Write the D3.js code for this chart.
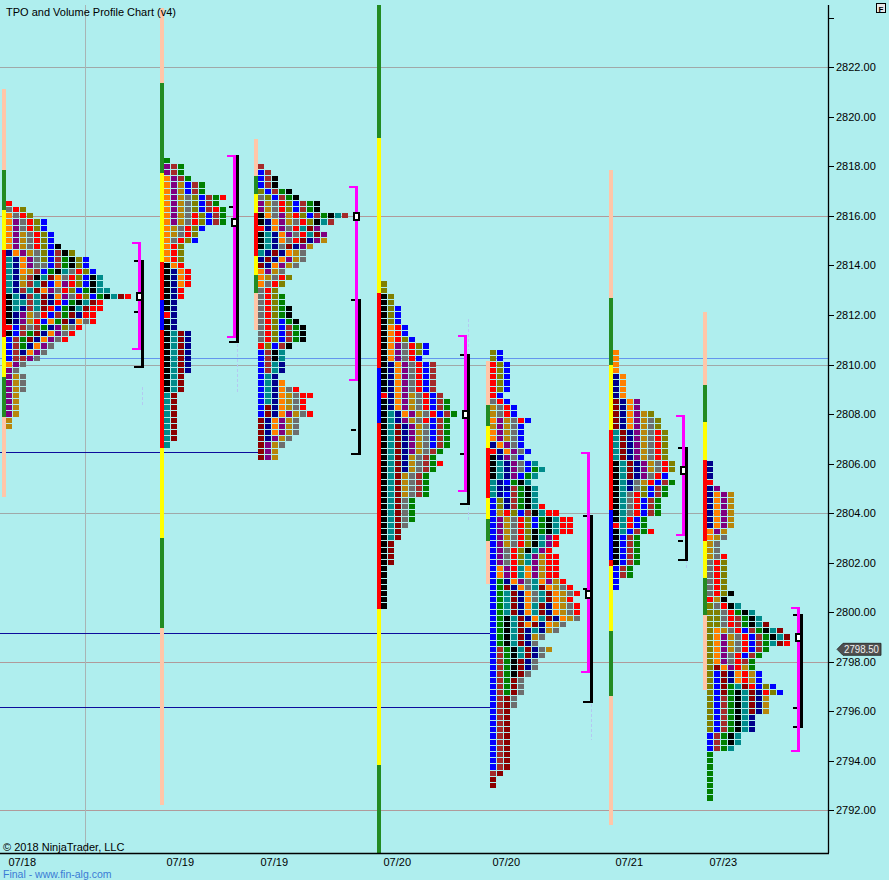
<!DOCTYPE html>
<html><head><meta charset="utf-8">
<script src="https://cdn.jsdelivr.net/npm/d3@7"></script>
<style>
html,body{margin:0;padding:0;background:#afeeee;}
svg{display:block;font-family:"Liberation Sans",Arial,sans-serif;}
</style></head><body>
<svg id="c" width="889" height="880"></svg>
<script>
// ---------------- DATA ----------------
const dateLabels = ["07/18","07/19","07/19","07/20","07/20","07/21","07/23"];
const sessionTops = [2816.5, 2818.25, 2818.0, 2813.25, 2810.5, 2810.5, 2806.0];
const pocPrices = [2812.75, 2815.75, 2816.0, 2808.0, 2800.75, 2805.75, 2799.0];
const tpoValueArea = [[2814.89,2810.62],[2818.42,2811.11],[2817.16,2809.38],[2811.15,2804.91],[2806.43,2797.60],[2807.92,2803.12],[2800.17,2794.40]];
const volValueArea = [[2814.18,2812.13,2809.90],[2818.42,2816.37,2810.91],[2812.62,2807.37,2806.40],[2810.39,2806.40,2804.38],[2803.90,2800.94,2796.39],[2806.64,2802.89,2802.12],[2799.90,2796.15,2795.38]];
const priceTicks = [2792,2794,2796,2798,2800,2802,2804,2806,2808,2810,2812,2814,2816,2818,2820,2822,2824];
const gridPrices = [2822,2816,2810,2804,2798,2792];
const lastPrice = 2798.50;
const blueLevel = 2810.25;
const nakedLevels = [2806.45, 2799.17, 2796.17];
const nakedEndSession = [2, 4, 4];
// faint dashed extension marks: [session, high, low]
const faintMarks = [[0,2809.1,2808.36],[1,2810.83,2808.89],[2,2807.1,2806.8],[3,2811.84,2810.59],[3,2804.25,2803.65],[4,2796.3,2794.85],[5,2802.1,2801.7],[6,2796.3,2796.0]];

// range bars: [high, low, code]
const range1 = [[2821.12,2804.65,"p"],[2817.85,2816.24,"G"],[2816.24,2814.62,"Y"],[2814.62,2811.11,"R"],[2811.11,2809.50,"Y"],[2809.50,2807.88,"G"]];
const range2 = [[2824.4,2792.22,"p"],[2821.37,2817.73,"G"],[2817.73,2814.14,"Y"],[2814.14,2812.60,"R"],[2812.60,2811.39,"B"],[2811.39,2806.63,"R"],[2806.63,2802.99,"Y"],[2802.99,2799.36,"G"]];
const range3 = [[2819.11,2811.39,"p"],[2817.61,2816.88,"G"],[2816.88,2816.13,"Y"],[2816.13,2814.38,"R"],[2814.38,2813.61,"Y"],[2813.61,2812.89,"G"]];
const range4 = [[2824.5,2819.15,"G"],[2819.15,2812.89,"Y"],[2812.89,2809.86,"R"],[2809.86,2807.64,"B"],[2807.64,2800.13,"R"],[2800.13,2793.83,"Y"],[2793.83,2790.28,"G"]];
const range5 = [[2810.14,2801.14,"p"],[2808.37,2807.52,"G"],[2807.52,2806.63,"Y"],[2806.63,2804.61,"R"],[2804.61,2803.76,"Y"],[2803.76,2802.87,"G"]];
const range6 = [[2817.85,2791.42,"p"],[2812.69,2809.98,"G"],[2809.98,2807.36,"Y"],[2807.36,2804.13,"R"],[2804.13,2802.11,"B"],[2802.11,2801.87,"R"],[2801.87,2799.25,"Y"],[2799.25,2796.63,"G"]];
const range7 = [[2812.12,2796.86,"p"],[2809.17,2807.68,"G"],[2807.68,2806.15,"Y"],[2806.15,2802.88,"R"],[2802.88,2801.38,"Y"],[2801.38,2799.89,"G"]];

// TPO rows, top price downwards, one letter per period block
const rows1 = ["R","gRO","ogRO","oPgROB","oPgROB","oPYgROB","oPYgROB","oPYgROBK","NoPYgOBbKO","TNoPgOBbGKOB","TNoPggBbGKOB","TNoYbBGKTgROB","TNYbKTMogROBKT","TNYbTMBoPROBKT","TNbTMoPgROBGKTT","KTNbTMNoPgROBGKTMR","KTTbTMNRBGKTMR","KTNbTMRBGKTMRR","KNPYgRBbGMNRR","KNPYRBoGMNogR","RBbgbGNPOgR","KBbGMNoPgR","BbGMNoPgR","BbGNoPg","BbNoPg","BbbPg","oPg","Pg","PYg","PYg","PYg","PY","PY","PY","PY","Y","Y"];
const rows2 = ["G","PbG","PbG","oPbG","oPYBbG","oPYBbG","oPYgOBbGR","oPYgOBbG","oPYgOBbRG","oPYgROBbG","oPYgROBbG","oYgROB","oYgRO","ogROB","oRO","oRO","oRO","KoR","KNoR","KNoR","KNoR","KNR","KNR","KN","KN","RN","KN","KN","KTMN","KTMN","KTMN","KTMN","KTMN","KTMN","KTMN","KTM","KTM","KTM","TM","TM","TM","TM","TM","TM","TM","TM","T"];
const rows3 = ["b","Bb","BbK","BbK","OBbGK","gOBbGK","PYgROBbGK","PYgROBbGK","KogPYROBbGKTb","KNoPYgROKTb","RNoPgRTMP","KTNoPgRTMP","KTNogRMNPY","KTNgMNPY","TNMNoYg","NMNoPYg","MNoPYg","oPYg","oYgRO","ogRO","gRO","gROG","gROG","gROGK","gROGK","gROBGK","gROBbGK","gROBbGK","gROBbGK","ROBbK","BbKT","BbKT","BbTN","BbTN","BTN","BTNo","BTNogR","BTNoYgRR","BTNoYgR","BMNoYgR","BMNoPYgR","MNoPYg","MNoPYg","MNoPYg","MNPYg","MPYg","MPY","MPY"];
const rows4 = ["O","O","KO","KO","KOB","KOB","KOB","KoRB","KoRB","KoROB","KoPgROB","KoPgROB","KoPgRB","KNoPgRBb","KNoPgRBb","KNoPgRBb","KNoPgRBb","KNoPgRBb","RNoPYgRBb","KNoPYgRBbG","KNoPYgRBbG","KTNoPYgRBbG","KTNPYgRBbG","KTMNPYgBbG","KTMNPYgBbG","KTMNPYgBbG","KTMNPYgBbG","KTMNPYgbG","KTMNYgbG","KTMNYgbGR","KTMNYgbG","KTMYgbG","KTMYgbG","KTMYgbG","KTMYgbG","KTMgG","KTMgG","KTMgG","KTMgG","KTMg","KTM","KTM","KM","KM","KM","KM","K","K","K","K","K","K","K"];
const rows5 = ["OB","OB","ROB","ROB","ROB","ROB","ROB","RB","gRB","YgRB","YgRB","oPYgRB","YPYgB","oPYgB","oPYgB","NoPgB","RNoPgB","KNPgB","KTNPgBT","KTNPgBGT","KTNPBGT","TNBGKT","TNNbGKT","TNBbGKT","BONbGKT","BONbGKTR","BYROBbKTRR","BPYgROBGKTRR","BPYgROBGKTRR","BPYgROKGKTRR","BPYgROKTPR","BPYgROKTPR","BPgROKTPR","BPgROTPYRR","BPgROTPYRR","BoPRToPYRR","BoPRToPYRR","BGNoPgToPYR","BGMNogTMoYgR","BGTMNogTMoYgR","BGTMNogTMoYR","BGTMNoTMNoYgR","BGTMNoTMNoYgR","BGKTMNoTMNoYg","BGKTMoMNoYg","BGKTMNTNYg","BGKTMNYg","BGKTMNg","BbGKTMNgY","BbGKTMNg","BbGKMNg","BbGKMNg","BbGKMg","BbGMg","BbGMg","BbGMg","BbMg","BbMg","BbM","BbM","BbM","BbM","BbM","BbM","BbM","BbM","BbM","BbM","bM","M","M"];
const rows6 = ["o","o","o","o","No","No","No","No","MNoP","MNoP","MNoPYO","MNoPYgO","MNoPYgO","TMNPYgRO","TMNPYgRO","TMNPYgRO","TMNPYgRO","TMNPYgRO","KTMNPYgRO","KTMNPYgRO","KTMNPgRB","KTNgYRBbG","KTNgOBbG","KTgROBbG","KTgRBbG","KTgRBbG","KTgRBbG","KTRBG","RTRBG","KTBbGR","KBbG","KBbG","KBbG","KBbG","KBbG","BbG","BbG","B","B"];
const rows7 = ["N","N","N","R","NP","NoPY","NoPY","NoPY","NoPY","NoPY","NoPY","oPY","oYg","Yg","Yg","YgR","gRO","gRO","gRO","gRO","gRO","gROK","RYK","OgRKT","OOgRGKT","OOgRbGKT","OOgRbGKTM","OoYgRBbGKTM","OoPYgRBbGKTM","OoPYgRBbGTMR","OoPYgRBbG","OoPgRBbG","OoPgRbG","OMoPRYG","OBMNoRYB","OBMNoRYB","OBMGTMRBOB","OBMGKTMNROB","OBbGKTMNY","OBbGKTMNY","OBbGKTMNY","OBbGKTN","OBbGKTN","OBbGKTN","BbGKT","BbGKT","BbGT","G","G","G","G","G","G","G","G"];

// ---------------- STYLE ----------------
const periodColors = {R:"#ff0000", g:"#6e6e6e", O:"#808000", o:"#ff8000", P:"#800080", Y:"#b8860b", B:"#0000ff", K:"#000000", b:"#a52a2a", G:"#008000", T:"#008b8b", N:"#00008b", M:"#8b0000"};
const barColors = {p:"#ffc6a8", G:"#228b22", Y:"#ffff00", R:"#ff0000", B:"#0000ff"};

const W = 889, H = 880;
const plotRight = 828, plotTop = 5, plotBottom = 853;
const sessions = [rows1, rows2, rows3, rows4, rows5, rows6, rows7];
const ranges = [range1, range2, range3, range4, range5, range6, range7];

const y = d3.scaleLinear().domain([2792, 2822]).range([810.3, 67.3]);

// column layout: each TPO column = one unit
const maxLen = sessions.map(r => d3.max(r, s => s.length));
const gapCols = 4.53;
const colOffsets = [];
let acc = 0;
maxLen.forEach(m => { colOffsets.push(acc); acc += m + gapCols; });
const x = d3.scaleLinear().domain([0, acc]).range([6, 6 + 7 * acc]);
const sx = i => Math.round(x(colOffsets[i]));
const colX = (i, j) => Math.round(x(colOffsets[i] + j));
const endX = i => colX(i, maxLen[i]);
const rowTop = p => Math.round(y(p) - 2.6);

const svg = d3.select("#c");
svg.append("rect").attr("width", W).attr("height", H).attr("fill", "#afeeee");
svg.append("defs").append("clipPath").attr("id", "pc")
  .append("rect").attr("x", 0).attr("y", plotTop).attr("width", plotRight).attr("height", plotBottom - plotTop);
const g = svg.append("g").attr("clip-path", "url(#pc)").attr("shape-rendering", "crispEdges");

// grid lines
g.selectAll(".grid").data(gridPrices).join("line")
  .attr("x1", 0).attr("x2", plotRight)
  .attr("y1", d => Math.round(y(d)) + 0.5).attr("y2", d => Math.round(y(d)) + 0.5)
  .attr("stroke", d => (d === 2816 || d === 2798 || d === 2792) ? "#b09a9a" : "#a0a8a8").attr("stroke-width", 1);
g.append("line").attr("x1", 85.5).attr("x2", 85.5).attr("y1", 0).attr("y2", plotBottom)
  .attr("stroke", "#a8b4b4").attr("stroke-width", 1);

// blue level line
g.append("line").attr("x1", 0).attr("x2", plotRight)
  .attr("y1", Math.round(y(blueLevel)) + 0.5).attr("y2", Math.round(y(blueLevel)) + 0.5)
  .attr("stroke", "#6495ed").attr("stroke-width", 1);

// naked levels
g.selectAll(".naked").data(nakedLevels).join("line")
  .attr("x1", 0).attr("x2", (d, i) => sx(nakedEndSession[i]))
  .attr("y1", d => Math.round(y(d)) + 0.5).attr("y2", d => Math.round(y(d)) + 0.5)
  .attr("stroke", "#0c0c9c").attr("stroke-width", 1);

// range bars
ranges.forEach((segs, i) => {
  g.selectAll(null).data(segs).join("rect")
    .attr("x", sx(i) - 4).attr("width", 4)
    .attr("y", d => Math.round(y(d[0]))).attr("height", d => Math.round(y(d[1])) - Math.round(y(d[0])))
    .attr("fill", d => barColors[d[2]]);
});

// TPO blocks
sessions.forEach((rows, i) => {
  const cells = [];
  rows.forEach((str, k) => {
    const p = sessionTops[i] - k * 0.25;
    [...str].forEach((c, j) => cells.push({ p, j, c }));
  });
  g.selectAll(null).data(cells).join("rect")
    .attr("x", d => colX(i, d.j)).attr("width", 6)
    .attr("y", d => rowTop(d.p))
    .attr("height", d => rowTop(d.p - 0.25) - rowTop(d.p) - 1)
    .attr("fill", d => periodColors[d.c]);
});

// faint dashed extension marks
g.selectAll(".faint").data(faintMarks).join("line")
  .attr("x1", d => endX(d[0]) + 10.5).attr("x2", d => endX(d[0]) + 10.5)
  .attr("y1", d => y(d[1])).attr("y2", d => y(d[2]))
  .attr("stroke", "#b4c8f2").attr("stroke-width", 1.5).attr("stroke-dasharray", "3,2");

// value area brackets & POC
sessions.forEach((rows, i) => {
  const E = endX(i);
  const v = volValueArea[i];
  const t = tpoValueArea[i];
  // volume (black) bracket
  g.append("rect").attr("x", E + 9).attr("width", 3)
    .attr("y", Math.round(y(v[0])) - 1).attr("height", Math.round(y(v[2])) - Math.round(y(v[0])) + 2).attr("fill", "#000");
  v.forEach((p, k) => {
    g.append("rect").attr("x", E + 2).attr("width", k === 1 ? 5 : 10)
      .attr("y", Math.round(y(p)) - 1).attr("height", 2).attr("fill", "#000");
  });
  // TPO (magenta) bracket
  g.append("rect").attr("x", E + 6).attr("width", 3)
    .attr("y", Math.round(y(t[0])) - 1).attr("height", Math.round(y(t[1])) - Math.round(y(t[0])) + 2).attr("fill", "#ff00ff");
  t.forEach(p => {
    g.append("rect").attr("x", E).attr("width", 9)
      .attr("y", Math.round(y(p)) - 1).attr("height", 2).attr("fill", "#ff00ff");
  });
  // POC box
  const yc = Math.round(y(pocPrices[i]));
  g.append("rect").attr("x", E + 5).attr("y", yc - 3.5).attr("width", 5).attr("height", 7)
    .attr("fill", "#ffffff").attr("stroke", "#000").attr("stroke-width", 2);
});

// axes lines
svg.append("line").attr("x1", plotRight + 0.5).attr("x2", plotRight + 0.5).attr("y1", plotTop).attr("y2", plotBottom)
  .attr("stroke", "#000").attr("stroke-width", 1.3);
svg.append("line").attr("x1", 0).attr("x2", plotRight + 1).attr("y1", plotBottom + 0.5).attr("y2", plotBottom + 0.5)
  .attr("stroke", "#000").attr("stroke-width", 1.3);

// right price axis
const axis = d3.axisRight(y).tickValues(priceTicks).tickFormat(d => d === 2824 ? "" : d.toFixed(2)).tickSize(6).tickPadding(2);
const ga = svg.append("g").attr("transform", `translate(${plotRight},0)`).call(axis);
ga.select(".domain").remove();
ga.selectAll(".tick line").attr("stroke", "#000").attr("shape-rendering", "crispEdges");
ga.selectAll(".tick text").attr("fill", "#000").attr("font-size", 11).attr("font-family", "Liberation Sans, Arial, sans-serif");

// last price marker
const yl = y(lastPrice);
svg.append("path")
  .attr("d", `M837,${yl} L843,${yl - 6} L881,${yl - 6} L881,${yl + 6} L843,${yl + 6} Z`)
  .attr("fill", "#505050").attr("stroke", "#202020").attr("stroke-width", 0.8);
svg.append("text").attr("x", 844).attr("y", yl + 3.8).attr("font-size", 10.5).attr("fill", "#f0f0f0")
  .attr("textLength", 35).attr("lengthAdjust", "spacingAndGlyphs").text(lastPrice.toFixed(2));

// date labels
svg.selectAll(".date").data(dateLabels).join("text")
  .attr("x", (d, i) => sx(i) + 2.5).attr("y", 866).attr("font-size", 11).attr("fill", "#000").text(d => d);

// texts
svg.append("text").attr("x", 6).attr("y", 16).attr("font-size", 11).attr("fill", "#000").text("TPO and Volume Profile Chart (v4)");
svg.append("text").attr("x", 3).attr("y", 851).attr("font-size", 11).attr("fill", "#000").text("© 2018 NinjaTrader, LLC");
svg.append("text").attr("x", 3).attr("y", 878).attr("font-size", 10.5).attr("fill", "#3a7bd5").text("Final - www.fin-alg.com");

// F box
svg.append("rect").attr("x", 876.5).attr("y", 3.5).attr("width", 9).attr("height", 9)
  .attr("fill", "#e8e8e8").attr("stroke", "#000").attr("stroke-width", 1);
svg.append("text").attr("x", 881).attr("y", 11.5).attr("font-size", 8).attr("font-weight", "bold")
  .attr("text-anchor", "middle").attr("fill", "#000").text("F");
</script>
</body></html>
